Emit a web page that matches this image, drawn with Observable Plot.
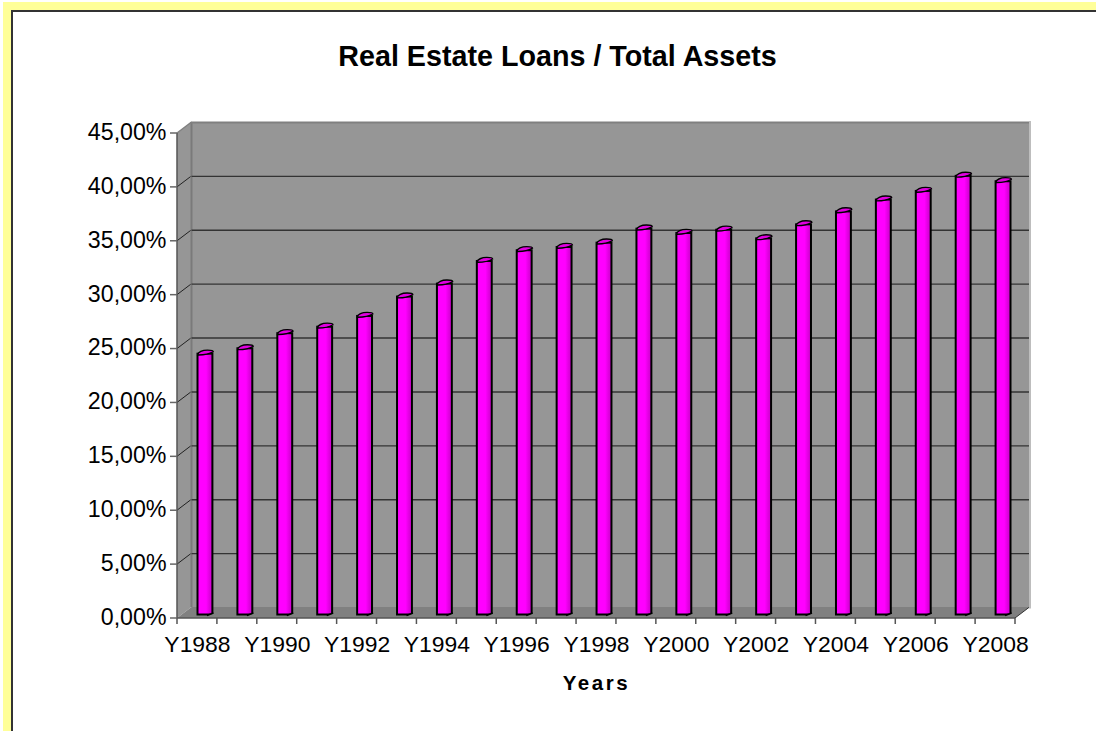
<!DOCTYPE html>
<html><head><meta charset="utf-8">
<script src="https://cdn.jsdelivr.net/npm/d3@7"></script>
<script src="https://cdn.jsdelivr.net/npm/@observablehq/plot@0.6"></script>
<style>
html,body{margin:0;padding:0;background:#fff;width:1096px;height:731px;overflow:hidden}
#band{position:absolute;left:3px;top:2px;right:0;bottom:0;background:#FFFF99}
#sheet{position:absolute;left:11px;top:10px;right:0;bottom:0;background:#fff;border-left:2px solid #333;border-top:2px solid #333}
#chart{position:absolute;left:0;top:0}
svg{background:transparent!important;overflow:visible}
</style></head><body>
<div id="band"></div><div id="sheet"></div><div id="chart"></div>
<script>
const titleText = "Real Estate Loans / Total Assets";
const xTitle = "Years";
const years = ["Y1988","Y1989","Y1990","Y1991","Y1992","Y1993","Y1994","Y1995","Y1996","Y1997","Y1998","Y1999","Y2000","Y2001","Y2002","Y2003","Y2004","Y2005","Y2006","Y2007","Y2008"];
const values = [24.2,24.7,26.1,26.7,27.7,29.5,30.7,32.8,33.8,34.1,34.5,35.8,35.4,35.7,34.9,36.2,37.4,38.5,39.3,40.7,40.2];
const yTicks = [0,5,10,15,20,25,30,35,40,45];
const xLabels = years.filter((d,i)=>i%2===0);
const rows = years.map((year,i)=>({year,value:values[i]}));
const FONT = "Liberation Sans, Arial, sans-serif";
const DX = 14.5, DY = -11;
const fmt = d => d.toFixed(2).replace(".",",")+"%";

const ns = "http://www.w3.org/2000/svg";
function el(name,attrs,parent){const e=document.createElementNS(ns,name);for(const k in attrs)e.setAttribute(k,attrs[k]);if(parent)parent.appendChild(e);return e;}

function shell(index,{x,y},values,dim){
  const g=el("g",{});
  const L=dim.marginLeft,R=dim.width-dim.marginRight,B=y(0),T=y(45);
  const defs=el("defs",{},g);
  const lg=el("linearGradient",{id:"cyl",x1:"0",x2:"1",y1:"0",y2:"0"},defs);
  [["0%","#ff00ff"],["58%","#ff00ff"],["80%","#e000e0"],["100%","#cc00cc"]].forEach(([o,c])=>el("stop",{offset:o,"stop-color":c},lg));
  el("path",{d:`M${L},${B}L${L+DX},${B+DY}V${T+DY}L${L},${T}Z`,fill:"#969696",stroke:"none"},g);
  el("path",{d:`M${L},${T}L${L+DX},${T+DY}`,stroke:"#808080","stroke-width":1.5,fill:"none"},g);
  yTicks.slice(1,-1).forEach(t=>el("path",{d:`M${L},${y(t)}L${L+DX},${y(t)+DY}`,stroke:"#222","stroke-width":1,fill:"none"},g));
  return g;
}
function floorAndEdges(index,{x,y},values,dim){
  const g=el("g",{});
  const L=dim.marginLeft,R=dim.width-dim.marginRight,B=y(0),T=y(45);
  el("path",{d:`M${L},${B}L${L+DX},${B+DY}H${R+DX}L${R},${B}Z`,fill:"#808080",stroke:"none"},g);
  el("path",{d:`M${R},${B}L${R+DX},${B+DY}`,stroke:"#333","stroke-width":1,fill:"none"},g);
  el("path",{d:`M${L+DX},${B+DY}V${T+DY}`,stroke:"#7a7a7a","stroke-width":2,fill:"none"},g);
  return g;
}
function frontAxes(index,{x,y},values,dim){
  const g=el("g",{});
  const L=dim.marginLeft,R=dim.width-dim.marginRight,B=y(0),T=y(45);
  const bw=(R-L)/years.length;
  el("path",{d:`M${L},${T}V${B}H${R}`,stroke:"#555","stroke-width":1.5,fill:"none"},g);
  for(let i=0;i<=years.length;i++) el("path",{d:`M${L+i*bw},${B}v6`,stroke:"#555","stroke-width":1.5},g);
  yTicks.forEach(t=>el("path",{d:`M${L-7},${y(t)}H${L}`,stroke:"#666","stroke-width":1.5},g));
  return g;
}
const capSymbol={draw(c){
  c.moveTo(-7.8,0.3);
  c.bezierCurveTo(-7.5,-2.6,-3,-4.6,2,-4.6);
  c.bezierCurveTo(5,-4.6,7.8,-4.4,7.8,-3);
  c.bezierCurveTo(4,-0.8,-3,0.4,-7.8,0.3);
  c.closePath();}};
const wedgeSymbol={draw(c){c.moveTo(1.5,1.5);c.lineTo(9,-1.5);c.lineTo(9,2);c.closePath();}};
const footSymbol={draw(c){c.moveTo(1.5,1);c.lineTo(8,-1.5);}};

const plot=Plot.plot({
  width:1096,height:731,
  marginLeft:177,marginRight:81,marginTop:133,marginBottom:113,
  style:{background:"transparent",fontFamily:FONT},
  x:{type:"band",domain:years,padding:0,round:false,label:null},
  y:{domain:[0,45],label:null},
  marks:[
    Plot.frame({fill:"#969696",stroke:"none",dx:DX,dy:DY}),
    shell,
    floorAndEdges,
    Plot.ruleY(yTicks.slice(1,-1),{y:d=>d,dx:DX,dy:DY,stroke:"#333",strokeWidth:1.4}),
    Plot.frame({anchor:"top",stroke:"#808080",strokeWidth:2,dx:DX,dy:DY}),
    Plot.frame({anchor:"right",stroke:"#bdbdbd",strokeWidth:2,dx:DX,dy:DY}),
    frontAxes,
    Plot.barY(rows,{x:"year",y:"value",dx:8,dy:-3.5,insetLeft:12.5,insetRight:12.5,fill:"url(#cyl)",stroke:"#000",strokeWidth:2}),
    Plot.dot(rows,{x:"year",y:0,dx:8,dy:-4,r:8,symbol:wedgeSymbol,fill:"#808080",stroke:"none"}),
    Plot.dot(rows,{x:"year",y:0,dx:8,dy:-4,r:8,symbol:footSymbol,fill:"none",stroke:"#000",strokeWidth:1.6}),
    Plot.dot(rows,{x:"year",y:"value",dx:8,dy:-3,r:8,symbol:capSymbol,fill:"#e000e0",stroke:"#000",strokeWidth:1.4}),
    Plot.axisY(yTicks,{anchor:"left",tickSize:0,tickPadding:11,tickFormat:fmt,fontSize:23.2,fill:"#000",label:null,dy:-1}),
    Plot.axisX(xLabels,{anchor:"bottom",tickSize:0,tickPadding:17,fontSize:22.9,fill:"#000",label:null}),
    Plot.text([titleText],{frameAnchor:"top",dx:-39,dy:-88,fontSize:28.7,fontWeight:"bold",fill:"#000"}),
    Plot.text([xTitle],{frameAnchor:"bottom",dy:71,fontSize:20.5,fontWeight:"bold",fill:"#000"})
  ]
});
plot.querySelectorAll("text").forEach(t=>{if(t.textContent===xTitle)t.setAttribute("letter-spacing","2.6");});
document.getElementById("chart").appendChild(plot);
</script></body></html>
